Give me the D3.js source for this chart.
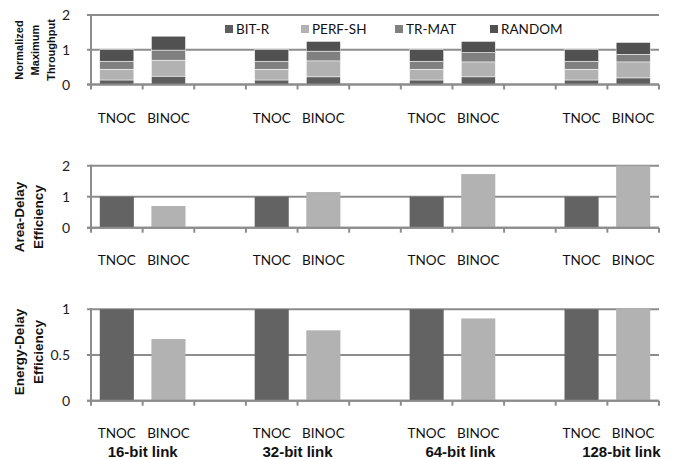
<!DOCTYPE html>
<html><head><meta charset="utf-8">
<script src="https://cdn.jsdelivr.net/npm/d3@7"></script>
<style>body{margin:0;background:#fff;}svg{display:block;}</style>
</head><body>
<svg id="c" width="676" height="459"></svg>
<script>
// ---- data ----
const links = ["16-bit link","32-bit link","64-bit link","128-bit link"];
const designs = ["TNOC","BINOC"];
const seriesNames = ["BIT-R","PERF-SH","TR-MAT","RANDOM"];
// stacked throughput (order: 16 TNOC, 16 BINOC, 32 TNOC, 32 BINOC, ...)
const bitR   = [0.13,0.24, 0.13,0.22, 0.13,0.22, 0.13,0.19];
const perfSh = [0.31,0.46, 0.31,0.46, 0.31,0.43, 0.31,0.46];
const trMat  = [0.23,0.29, 0.23,0.28, 0.23,0.27, 0.23,0.22];
const random = [0.33,0.40, 0.33,0.28, 0.33,0.32, 0.33,0.34];
const areaDelay   = [1,0.70, 1,1.15, 1,1.73, 1,2.00];
const energyDelay = [1,0.675, 1,0.77, 1,0.90, 1,1.01];
const ticksTop = [0,1,2], ticksMid = [0,1,2], ticksBot = [0,0.5,1];

// ---- layout ----
const svg = d3.select("#c");
const X0 = 91, X1 = 659;
const slots = [];
links.forEach((l,i)=>{ designs.forEach(d=>slots.push(l+"|"+d)); if(i<links.length-1) slots.push("gap"+i); });
const x = d3.scaleBand().domain(slots).range([X0,X1]).padding(0);
const bw = x.bandwidth()*0.66;
const items = [];
links.forEach((l,i)=>designs.forEach((d,j)=>items.push({key:l+"|"+d, link:l, design:d, idx:i*2+j})));

const gridC = "#8c8c8c";
const fontReg = "Lato, 'Open Sans', sans-serif";
const fontBold = "'Liberation Sans', Arial, sans-serif";
const colors = {"BIT-R":"#5e5e5e","PERF-SH":"#b2b2b2","TR-MAT":"#808080","RANDOM":"#515151"};

function panel(y0, y1, domainMax, ticks, tickFmt, labelY){
  const y = d3.scaleLinear().domain([0,domainMax]).range([y0,y1]);
  const g = svg.append("g");
  // gridlines
  ticks.forEach(t=>{
    g.append("line").attr("x1",X0-4).attr("x2",X1).attr("y1",y(t)).attr("y2",y(t))
      .attr("stroke",gridC).attr("stroke-width",2);
    g.append("text").attr("x",70).attr("y",y(t)).attr("dy","0.36em").attr("text-anchor","end")
      .attr("font-family",fontReg).attr("font-size",14).attr("fill","#222").text(tickFmt(t));
  });
  // left axis
  g.append("line").attr("x1",X0).attr("x2",X0).attr("y1",y(domainMax)-1).attr("y2",y(0))
    .attr("stroke",gridC).attr("stroke-width",2);
  // bottom ticks at slot boundaries
  const bounds = slots.map(s=>x(s)).concat([X1]);
  bounds.forEach(b=>g.append("line").attr("x1",b).attr("x2",b).attr("y1",y(0)).attr("y2",y(0)+5)
    .attr("stroke",gridC).attr("stroke-width",2));
  // category labels
  items.forEach(it=>g.append("text").attr("x",x(it.key)+x.bandwidth()/2).attr("y",labelY)
    .attr("text-anchor","middle").attr("font-family",fontReg).attr("font-size",13.5).attr("fill","#111").text(it.design));
  return {g,y};
}

// top panel (stacked)
const p1 = panel(84.5, 15, 2, ticksTop, d=>d, 123);
const stackRows = items.map(it=>({key:it.key,"BIT-R":bitR[it.idx],"PERF-SH":perfSh[it.idx],"TR-MAT":trMat[it.idx],"RANDOM":random[it.idx]}));
const stacked = d3.stack().keys(seriesNames)(stackRows);
stacked.forEach(s=>{
  p1.g.selectAll(null).data(s).enter().append("rect")
    .attr("x",d=>x(d.data.key)+(x.bandwidth()-bw)/2).attr("width",bw)
    .attr("y",d=>p1.y(d[1])).attr("height",d=>p1.y(d[0])-p1.y(d[1]))
    .attr("fill",colors[s.key]).attr("stroke","#fff").attr("stroke-width",0.5);
});
p1.g.append("line").attr("x1",X0-4).attr("x2",X1).attr("y1",p1.y(0)).attr("y2",p1.y(0)).attr("stroke",gridC).attr("stroke-width",2);
// legend
const legX = [225,301,395,490];
seriesNames.forEach((n,i)=>{
  svg.append("rect").attr("x",legX[i]).attr("y",25).attr("width",8).attr("height",8).attr("fill",colors[n]);
  svg.append("text").attr("x",legX[i]+11).attr("y",33.5).attr("font-family",fontReg).attr("font-size",13.5).attr("fill","#111").text(n);
});

// middle + bottom panels (simple bars)
function simpleBars(p, vals){
  p.g.selectAll(null).data(items).enter().append("rect")
    .attr("x",d=>x(d.key)+(x.bandwidth()-bw)/2).attr("width",bw)
    .attr("y",d=>p.y(vals[d.idx])).attr("height",d=>p.y(0)-p.y(vals[d.idx]))
    .attr("fill",d=>d.design==="TNOC"?"#636363":"#b2b2b2");
  p.g.append("line").attr("x1",X0-4).attr("x2",X1).attr("y1",p.y(0)).attr("y2",p.y(0)).attr("stroke",gridC).attr("stroke-width",2);
}
const p2 = panel(227.7, 165.7, 2, ticksMid, d=>d, 265);
simpleBars(p2, areaDelay);
const p3 = panel(400.7, 309.3, 1, ticksBot, d=>d, 438);
simpleBars(p3, energyDelay);

// link labels
const linkShift = [0,0,8,14];
links.forEach((l,i)=>{
  const cx = x(l+"|BINOC") + linkShift[i];
  svg.append("text").attr("x",cx).attr("y",457).attr("text-anchor","middle")
    .attr("font-family",fontBold).attr("font-weight","bold").attr("font-size",15).attr("fill","#111").text(l);
});

// y axis titles
function ytitle(lines, xs, cy, size){
  lines.forEach((t,i)=>svg.append("text").attr("transform",`translate(${xs[i]},${cy}) rotate(-90)`)
    .attr("text-anchor","middle").attr("dy","0.35em").attr("font-family",fontBold).attr("font-weight","bold")
    .attr("font-size",size).attr("fill","#111").text(t));
}
ytitle(["Normalized","Maximum","Throughput"],[19,35,51],50,11);
ytitle(["Area-Delay","Efficiency"],[19,38],217,13.5);
ytitle(["Energy-Delay","Efficiency"],[19,38],352,13.5);
</script>
</body></html>
